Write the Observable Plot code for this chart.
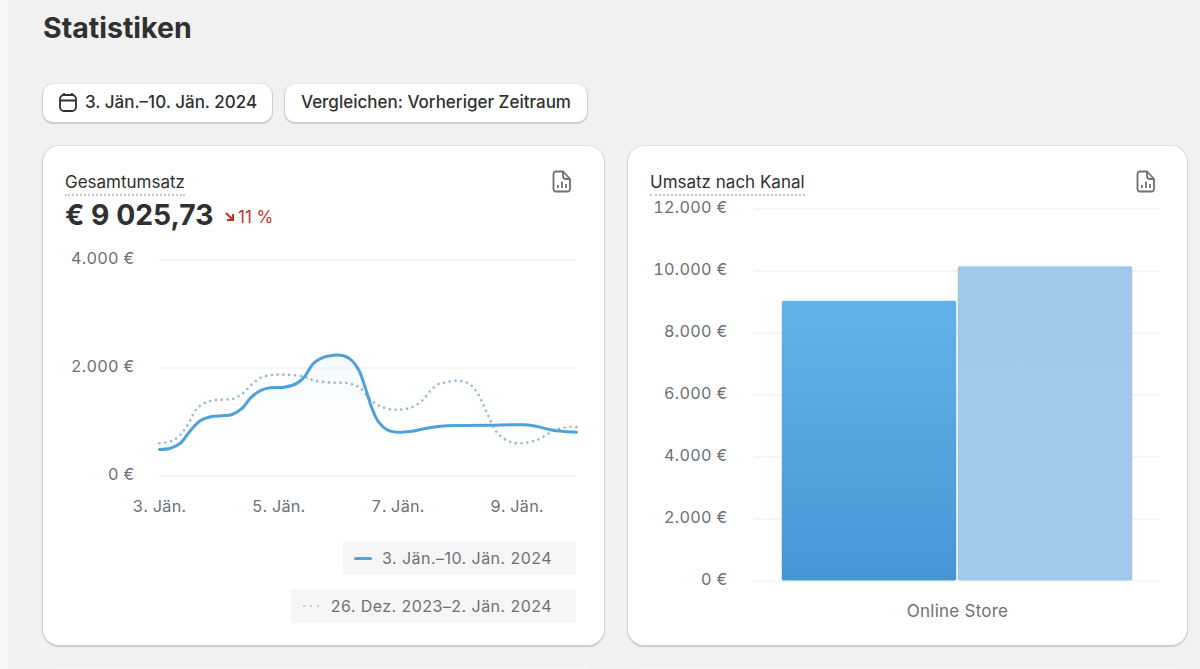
<!DOCTYPE html>
<html lang="de">
<head>
<meta charset="utf-8">
<script src="https://cdn.jsdelivr.net/npm/d3@7"></script>
<script src="https://cdn.jsdelivr.net/npm/@observablehq/plot@0.6"></script>
<style>
html,body{margin:0;padding:0;width:1200px;height:669px;overflow:hidden;background:#f1f1f1;font-family:Inter,"Noto Sans",sans-serif;color:#303030}
.abs{position:absolute}
.strip{left:0;top:0;width:8px;height:669px;background:#f7f7f7}
.next{left:55px;top:667px;width:535px;height:2px;background:#f6f6f6}
.next2{left:640px;top:667px;width:535px;height:2px;background:#f6f6f6}
h1{position:absolute;left:43px;top:11px;margin:0;font-size:28.5px;line-height:34px;font-weight:700;color:#303030}
.btn{position:absolute;top:84px;height:38px;background:#fff;border-radius:10px;box-shadow:0 1px 0 1px #d0d0d0,0 0 0 1px #e6e6e6;font-size:17px;font-weight:500;line-height:37px;color:#303030;white-space:nowrap;box-sizing:border-box}
.card{position:absolute;top:146px;height:499px;background:#fff;border-radius:16px;box-shadow:0 1px 1px 1px #cfcfcf,0 0 0 1px #e4e4e4}
.lab{position:absolute;top:172px;font-size:17px;line-height:20px;color:#303030;padding-bottom:2px;white-space:nowrap;border-bottom:2px dotted #c8c8c8;z-index:2}
.big{position:absolute;left:65px;top:197px;font-size:28.3px;line-height:36px;font-weight:700;color:#303030;white-space:nowrap}
.delta{position:absolute;left:238px;top:207px;font-size:17px;line-height:20px;color:#c4321f;white-space:nowrap}
.lg{position:absolute;background:#f6f6f7;border-radius:2px;font-size:16px;line-height:34px;color:#6d7175;height:34px;white-space:nowrap;text-align:right;padding-right:24px;box-sizing:border-box;letter-spacing:.45px}
</style>
</head>
<body>
<div class="abs strip"></div>
<div class="abs next"></div><div class="abs next2"></div>
<svg width="0" height="0" style="position:absolute">
  <defs>
    <linearGradient id="areaGrad" x1="0" y1="0" x2="0" y2="1">
      <stop offset="0" stop-color="#d9ecfa" stop-opacity=".3"/>
      <stop offset="1" stop-color="#ffffff" stop-opacity="0"/>
    </linearGradient>
    <linearGradient id="barGrad" x1="0" y1="0" x2="0" y2="1">
      <stop offset="0" stop-color="#63b3ea"/>
      <stop offset="1" stop-color="#4596d3"/>
    </linearGradient>
    <linearGradient id="barGrad2" x1="0" y1="0" x2="0" y2="1">
      <stop offset="0" stop-color="#a0c8e8"/>
      <stop offset="1" stop-color="#a1c9ea"/>
    </linearGradient>
  </defs>
</svg>

<h1>Statistiken</h1>
<div class="btn" style="left:43px;width:229px;padding-left:42px">3. Jän.–10. Jän. 2024</div>
<svg class="abs" style="left:58px;top:92px" width="20" height="20" viewBox="0 0 20 20" fill="none" stroke="#303030" stroke-width="1.8"><rect x="2" y="3" width="16" height="16" rx="4"/><path d="M2 8.5H18M6 1V4M14 1V4"/></svg>
<div class="btn" style="left:285px;width:302px;padding-left:16px">Vergleichen: Vorheriger Zeitraum</div>

<div class="card" style="left:43px;width:561px"></div>
<div class="card" style="left:628px;width:559px"></div>

<div class="lab" style="left:65px">Gesamtumsatz</div>
<div class="big">€ 9 025,73</div>
<svg class="abs" style="left:224px;top:211px" width="11" height="11" viewBox="0 0 11 11" fill="none" stroke="#c4321f" stroke-width="2"><path d="M2 2L8.5 8.5M9 3V9H3"/></svg>
<div class="delta">11 %</div>
<div class="lab" style="left:650px">Umsatz nach Kanal</div>

<svg class="abs" style="left:552px;top:170px" width="20" height="23" viewBox="0 0 20 23" fill="none" stroke="#6d7175" stroke-width="1.8"><path d="M4 1.5H11L18 9V19A2.5 2.5 0 0 1 15.5 21.5H4A2.5 2.5 0 0 1 1.5 19V4A2.5 2.5 0 0 1 4 1.5Z"/><path d="M11 1.5V6A3 3 0 0 0 14 9H18M6 18V15M10 18V11.500M14 18V14"/></svg>
<svg class="abs" style="left:1136px;top:170px" width="20" height="23" viewBox="0 0 20 23" fill="none" stroke="#6d7175" stroke-width="1.8"><path d="M4 1.5H11L18 9V19A2.5 2.5 0 0 1 15.5 21.5H4A2.5 2.5 0 0 1 1.5 19V4A2.5 2.5 0 0 1 4 1.5Z"/><path d="M11 1.5V6A3 3 0 0 0 14 9H18M6 18V15M10 18V11.500M14 18V14"/></svg>

<div id="line"></div>
<div id="bar"></div>

<div class="lg" style="left:343px;top:541px;width:233px">3. Jän.–10. Jän. 2024</div>
<div class="abs" style="left:354px;top:557px;width:18px;height:3px;border-radius:2px;background:#4fa3dc"></div>
<div class="lg" style="left:291px;top:589px;width:285px">26. Dez. 2023–2. Jän. 2024</div>
<svg class="abs" style="left:302px;top:604px" width="20" height="4"><line x1="2" y1="2" x2="18" y2="2" stroke="#a5cbe6" stroke-width="2.2" stroke-linecap="round" stroke-dasharray="0 7"/></svg>

<script>
// Gesamtumsatz: x = day of January, y = euros
const currentDays = [3,3.18,3.35,3.52,3.69,3.86,4.05,4.22,4.39,4.53,4.70,4.86,5.09,5.23,5.31,5.42,5.59,5.76,5.93,6.09,6.23,6.35,6.46,6.57,6.68,6.82,6.99,7.21,7.44,7.72,8.11,8.56,9.12,9.34,9.56,9.79,10];
const currentValues = [491,515,607,843,1028,1096,1114,1139,1256,1448,1583,1633,1645,1680,1720,1818,2089,2200,2237,2226,2139,1954,1615,1244,996,856,811,824,874,922,935,941,948,917,856,824,811];
const previousDays = [3,3.21,3.35,3.44,3.52,3.60,3.69,3.86,4.05,4.25,4.42,4.56,4.72,4.92,5.14,5.42,5.59,5.87,6.15,6.35,6.51,6.63,6.79,6.99,7.24,7.41,7.55,7.69,7.77,7.98,8.17,8.33,8.44,8.53,8.64,8.81,8.99,9.20,9.36,9.54,9.70,9.90,10];
const previousValues = [607,652,763,893,1041,1213,1306,1393,1411,1435,1552,1707,1830,1874,1874,1843,1769,1731,1719,1644,1459,1337,1256,1226,1274,1398,1583,1707,1726,1763,1726,1552,1306,1089,843,670,607,626,676,793,874,911,904];
const lineYTicks = [0,2000,4000];
const lineXTicks = [3,5,7,9];

// Umsatz nach Kanal
const channels = ["Online Store"];
const periods = ["3. Jän.–10. Jän. 2024","26. Dez. 2023–2. Jän. 2024"];
const channelValues = [9025.73,10141];
const barYTicks = [0,2000,4000,6000,8000,10000,12000];

const euro = d => d3.formatLocale({decimal:",",thousands:".",grouping:[3],currency:["","€"]}).format(",d")(d) + " €";
const toRows = (xs, ys) => xs.map((x,i) => ({x, y: ys[i]}));
const current = toRows(currentDays, currentValues);
const previous = toRows(previousDays, previousValues);
const barRows = periods.map((period,i) => ({channel: channels[0], period, value: channelValues[i]}));
const font = {fontFamily:"Inter, 'Noto Sans', sans-serif", fontSize:"16px", color:"#6d7175", background:"transparent", letterSpacing:".25px", position:"absolute", overflow:"visible"};

const linePlot = Plot.plot({
  width:530, height:290, marginLeft:99, marginRight:14, marginTop:19.5, marginBottom:54.5,
  style:{...font,left:"60px",top:"240px"},
  x:{domain:[3,10]},
  y:{domain:[0,4000]},
  marks:[
    Plot.ruleY(lineYTicks,{stroke:"#ebebeb",strokeWidth:1}),
    Plot.areaY(current,{x:"x",y1:0,y2:"y",fill:"url(#areaGrad)",curve:"catmull-rom"}),
    Plot.lineY(previous,{x:"x",y:"y",stroke:"#8fb8da",strokeWidth:2.6,strokeDasharray:"0 5.8",strokeLinecap:"round",curve:"catmull-rom"}),
    Plot.lineY(current,{x:"x",y:"y",stroke:"#4fa1da",strokeWidth:3,curve:"catmull-rom"}),
    Plot.axisY({ticks:lineYTicks,tickFormat:euro,tickSize:0,tickPadding:25,label:null,fill:"#6d7175",fontSize:16.25,dy:-1}),
    Plot.axisX({ticks:lineXTicks,tickFormat:d=>d+". Jän.",tickSize:0,tickPadding:24,label:null,fill:"#6d7175",fontSize:16.25})
  ]
});
document.getElementById("line").append(linePlot);

const barPlot = Plot.plot({
  width:540, height:440, marginLeft:114, marginRight:20, marginTop:18.5, marginBottom:49.5,
  style:{...font,left:"640px",top:"190px"},
  fx:{domain:channels,padding:0,label:null},
  x:{domain:periods,paddingInner:0,paddingOuter:0.15,axis:null},
  y:{domain:[0,12000]},
  color:{domain:periods,range:["url(#barGrad)","url(#barGrad2)"]},
  marks:[
    Plot.ruleY(barYTicks,{stroke:"#ebebeb",strokeWidth:1}),
    Plot.barY(barRows,{fx:"channel",x:"period",y:"value",fill:"period",insetLeft:0.75,insetRight:0.75,rx:2}),
    Plot.axisY({ticks:barYTicks,tickFormat:euro,tickSize:0,tickPadding:27,label:null,fill:"#6d7175",fontSize:16.25,dy:-1}),
    Plot.axisFx({anchor:"bottom",tickSize:0,tickPadding:24,label:null,fill:"#6d7175",fontSize:17})
  ]
});
document.getElementById("bar").append(barPlot);
</script>
</body>
</html>
